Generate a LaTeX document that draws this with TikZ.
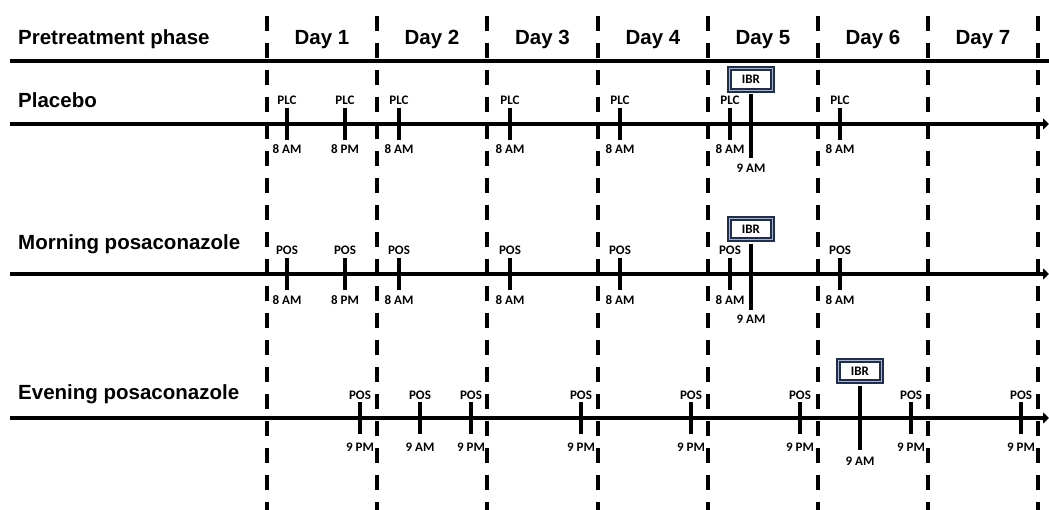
\documentclass[tikz,border=0pt]{standalone}
\usepackage{fontspec}
\setmainfont{Liberation Sans}
\newfontfamily\calfont{Carlito}
\usetikzlibrary{arrows.meta}
\definecolor{ibrnavy}{RGB}{31,45,78}
\definecolor{ibrlight}{RGB}{170,180,200}
\newcommand\dosetick[6]{%
  \coordinate (#1t) at (#2,#3-16);
  \coordinate (#1b) at (#2,#3+16);
  \draw[tickline] (#1t) -- (#1b);
  \node[small] (#1u) at (#2,#3-19) {#4};
  \node[small] (#1d) at (#2,#3+#6) {#5};
}
\newcommand\ibrmark[6]{%
  \node[ibrbox] (#1) at (#2,#3-#4) {IBR};
  \coordinate (#1e) at (#2,#3+#5);
  \draw[tickline] (#1.south) ++(0,2.7) -- (#1e);
  \node[small] (#1l) at (#2,#3+#6) {9 AM};
}
\begin{document}
\begin{tikzpicture}[x=1pt,y=-1pt,
  head/.style={font=\fontsize{20.5}{24}\selectfont\bfseries, anchor=base, inner sep=0},
  rowlab/.style={head, anchor=base west},
  small/.style={font=\calfont\fontsize{13}{15}\selectfont\bfseries, inner sep=0, anchor=base},
  tickline/.style={line width=3.4pt},
  dayline/.style={line width=4pt, dash pattern=on 15pt off 12pt},
  headline/.style={line width=4.3pt},
  timeline/.style={line width=3.4pt, -{Triangle[length=6pt,width=11pt]}},
  ibrbox/.style={draw=ibrnavy, double=ibrlight, line width=2.2pt, double distance=0.9pt,
    fill=white, minimum width=43.6pt, minimum height=21.6pt, inner sep=0,
    font=\calfont\fontsize{13}{15}\selectfont\bfseries}
]
\useasboundingbox (0,0) rectangle (1049,510);
% day separators
\foreach \i/\x in {0/267,1/377,2/487,3/598,4/708,5/818,6/928,7/1038}{
  \coordinate (dt\i) at (\x,16);
  \coordinate (db\i) at (\x,510);
  \draw[dayline] (dt\i) -- (db\i);
}
% header
\node[rowlab] (pre) at (18,45) {Pretreatment phase};
\foreach \i/\x in {1/322,2/432,3/542.5,4/653,5/763,6/873,7/983}{
  \node[head] (day\i) at (\x,45) {Day \i};
}
\coordinate (hl) at (10,61);
\coordinate (hr) at (1049,61);
\draw[headline] (hl) -- (hr);
% row labels
\node[rowlab] (plab) at (18,108) {Placebo};
\node[rowlab] (mlab) at (18,250) {Morning posaconazole};
\node[rowlab] (elab) at (18,399) {Evening posaconazole};
% timelines
\coordinate (pa) at (10,124); \coordinate (pb) at (1049,124);
\coordinate (ma) at (10,274); \coordinate (mb) at (1049,274);
\coordinate (ea) at (10,418); \coordinate (eb) at (1049,418);
\draw[timeline] (pa) -- (pb);
\draw[timeline] (ma) -- (mb);
\draw[timeline] (ea) -- (eb);
% placebo ticks
\dosetick{p1}{287}{124}{PLC}{8 AM}{30}
\dosetick{p2}{345}{124}{PLC}{8 PM}{30}
\dosetick{p3}{399}{124}{PLC}{8 AM}{30}
\dosetick{p4}{510}{124}{PLC}{8 AM}{30}
\dosetick{p5}{620}{124}{PLC}{8 AM}{30}
\dosetick{p6}{730}{124}{PLC}{8 AM}{30}
\dosetick{p7}{840}{124}{PLC}{8 AM}{30}
\ibrmark{pibr}{751}{124}{44.5}{34}{49}
% morning ticks
\dosetick{m1}{287}{274}{POS}{8 AM}{31}
\dosetick{m2}{345}{274}{POS}{8 PM}{31}
\dosetick{m3}{399}{274}{POS}{8 AM}{31}
\dosetick{m4}{510}{274}{POS}{8 AM}{31}
\dosetick{m5}{620}{274}{POS}{8 AM}{31}
\dosetick{m6}{730}{274}{POS}{8 AM}{31}
\dosetick{m7}{840}{274}{POS}{8 AM}{31}
\ibrmark{mibr}{751}{274}{45}{36}{50}
% evening ticks
\dosetick{e1}{360}{418}{POS}{9 PM}{33}
\dosetick{e2}{420}{418}{POS}{9 AM}{33}
\dosetick{e3}{471}{418}{POS}{9 PM}{33}
\dosetick{e4}{581}{418}{POS}{9 PM}{33}
\dosetick{e5}{691}{418}{POS}{9 PM}{33}
\dosetick{e6}{800}{418}{POS}{9 PM}{33}
\dosetick{e7}{911}{418}{POS}{9 PM}{33}
\dosetick{e8}{1021}{418}{POS}{9 PM}{33}
\ibrmark{eibr}{860}{418}{47}{32}{47}
\end{tikzpicture}
\end{document}
